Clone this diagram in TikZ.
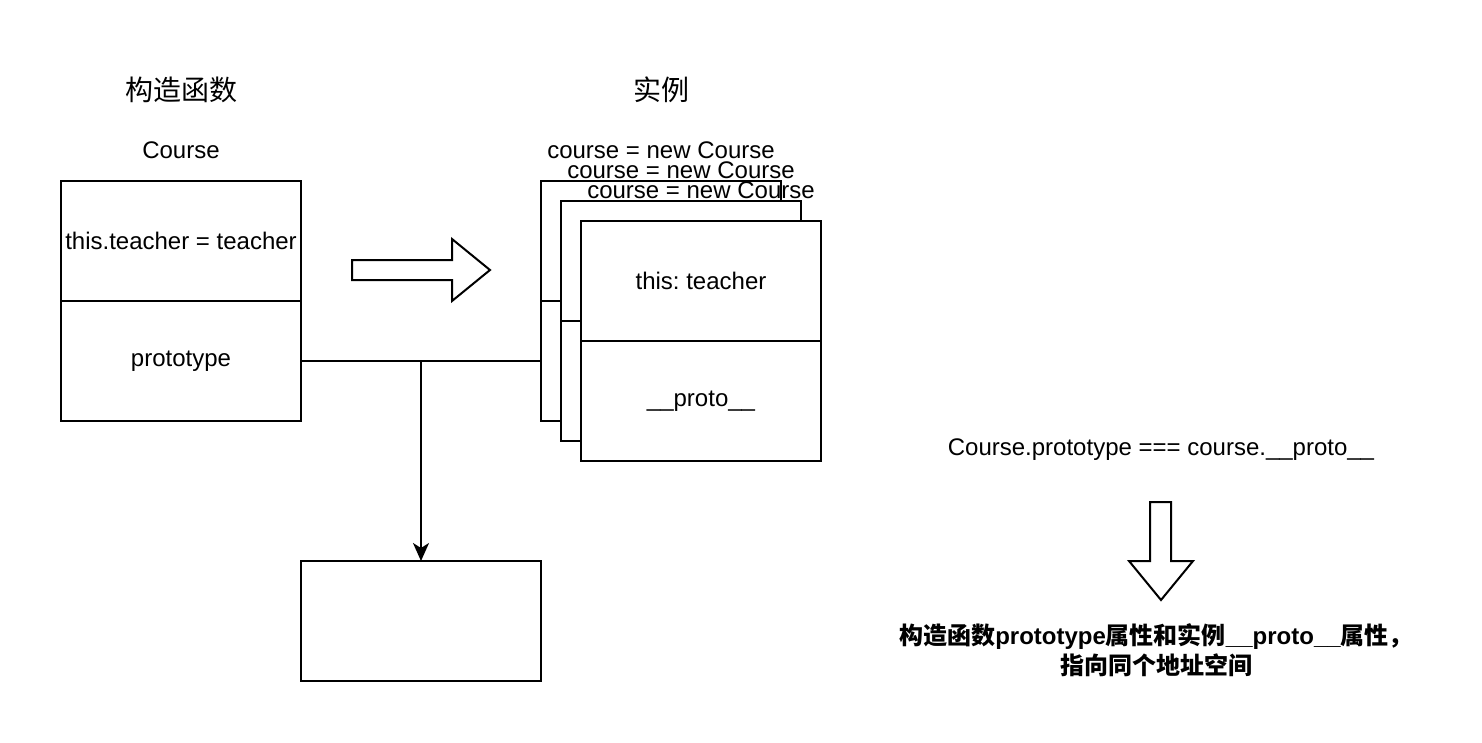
\documentclass[tikz,border=0pt]{standalone}
\usepackage{fontspec}
\setmainfont{Liberation Sans}
\newfontfamily\cjk{Noto Sans CJK SC}
\frenchspacing
\usetikzlibrary{positioning, arrows.meta, calc}
\tikzset{
  box/.style={
    draw,
    rectangle,
    line width=2pt,
    fill=white,
    minimum width=240pt,
    minimum height=120pt,
    inner sep=0pt,
    outer sep=0pt,
    align=center,
    font=\fontsize{24}{28}\selectfont
  },
  caption/.style={
    inner sep=0pt,
    align=center,
    font=\fontsize{24}{30}\selectfont
  },
  heading/.style={
    inner sep=0pt,
    font=\fontsize{28}{32}\selectfont\cjk
  },
  link/.style={
    line width=2pt
  },
  bigarrow/.style={
    draw,
    line width=2pt,
    fill=white,
    line join=miter
  }
}

\begin{document}
\begin{tikzpicture}[x=1pt, y=-1pt]
    \useasboundingbox (0,0) rectangle (1482,742);

    \node[heading] (ctorTitle) at (181,90) {构造函数};
    \node[heading] (instTitle) at (661,90) {实例};

    % constructor
    \node[caption] (ctorName) at (181,150) {Course};
    \node[box] (ctorThis) at (181,241) {this.teacher = teacher};
    \node[box, below=0pt of ctorThis] (ctorProto) {prototype};

    % instances, back to front
    \node[box] (backTop) at (661,241) {};
    \node[box, below=0pt of backTop] (backProto) {};
    \node[box] (midTop) at (681,261) {};
    \node[box, below=0pt of midTop] (midProto) {};
    \node[box] (frontTop) at (701,281) {this: teacher};
    \node[box, below=0pt of frontTop] (frontProto) {\_\_proto\_\_};

    \node[caption] (backName) at (661,150) {course = new Course};
    \node[caption] (midName) at (681,170) {course = new Course};
    \node[caption] (frontName) at (701,190) {course = new Course};

    \draw[bigarrow] (352,260) -- (452,260) -- (452,239) -- (490,270) -- (452,301) -- (452,280) -- (352,280) -- cycle;

    % shared prototype object
    \node[box] (shared) at (421,621) {};
    \coordinate (split) at ($(ctorProto.east)!0.5!(backProto.west)$);
    \draw[link] (ctorProto.east) -- (backProto.west);
    \draw[link, -{Stealth[length=18pt, width=16pt, inset=5pt]}] (split) -- (shared.north);

    % conclusion
    \node[caption] (equality) at (1161,450) {Course.prototype === course.\_\_proto\_\_};
    \draw[bigarrow] (1150,502) -- (1171,502) -- (1171,561) -- (1193,561) -- (1161,600) -- (1129,561) -- (1150,561) -- cycle;
    \node[caption, font=\fontsize{24}{30}\selectfont\bfseries] (note) at (1156,650)
      {{\cjk 构造函数}prototype{\cjk 属性和实例}\_\_proto\_\_{\cjk 属性，}\\{\cjk 指向同个地址空间}};
\end{tikzpicture}
\end{document}
